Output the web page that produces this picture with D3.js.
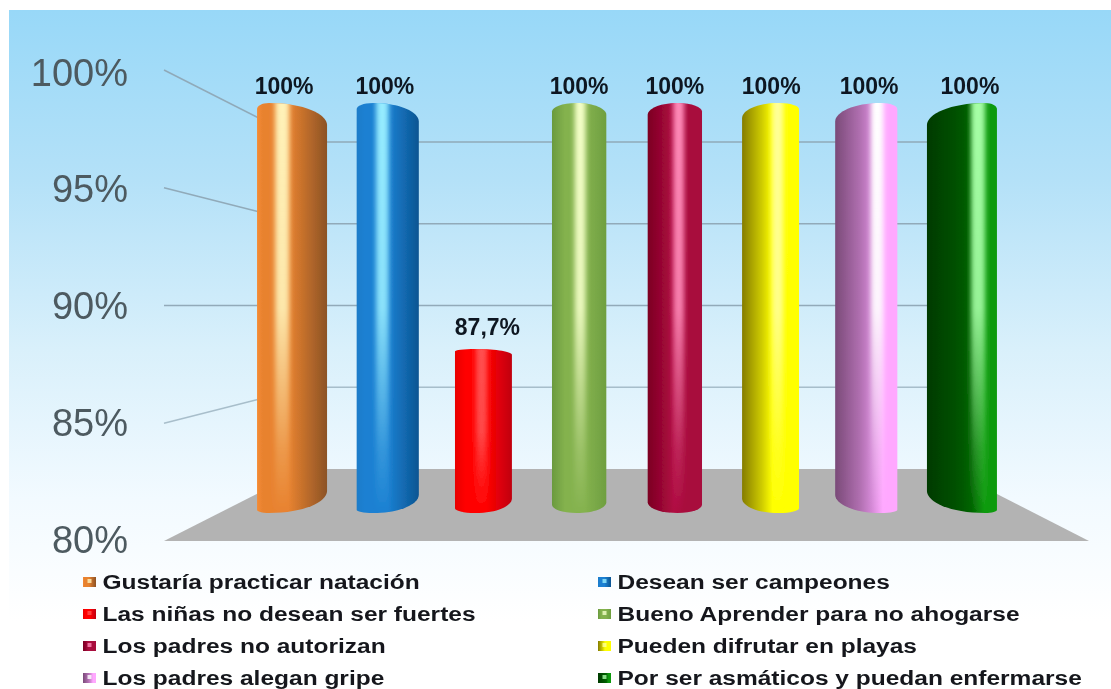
<!DOCTYPE html>
<html><head><meta charset="utf-8">
<script src="https://cdn.jsdelivr.net/npm/d3@7"></script>
<style>html,body{margin:0;padding:0;background:#fff}svg{display:block}text{font-family:"Liberation Sans",Arial,sans-serif}</style>
</head><body><svg id="c" width="1111" height="689"></svg>
<script>
const categories=["Gustaría practicar natación","Desean ser campeones","Las niñas no desean ser fuertes","Bueno Aprender para no ahogarse","Los padres no autorizan","Pueden difrutar en playas","Los padres alegan gripe","Por ser asmáticos y puedan enfermarse"];
const values=[100,100,87.7,100,100,100,100,100];
const valueLabels=["100%","100%","87,7%","100%","100%","100%","100%","100%"];
const axisTicks=[80,85,90,95,100];
const edgeLeft=["#f58b33","#1a7cc9","#e80000","#6a9a3e","#7c0022","#857c00","#7a4a78","#003a00"];
const bodyColor=["#e8822f","#1b80d2","#ff0000","#84b24e","#b00c42","#ffff00","#d488d6","#006400"];
const edgeRight=["#8c5326","#0b5592","#c00012","#6f9f40","#a80a3c","#ffff00","#ffa8ff","#0f9a0f"];
const shine=["#fff2b8","#96ecff","#ff5050","#f4ffc8","#ff8ab8","#ffff98","#ffffff","#a6ffa6"];

const W=1111,H=689;
const svg=d3.select("#c");
const defs=svg.append("defs");
const bg=defs.append("linearGradient").attr("id","bg").attr("x1",0).attr("x2",0).attr("y1",0).attr("y2",1);
[[0,"#98d8f8"],[.25,"#b4e1f8"],[.5,"#d9f0fb"],[.72,"#f2faff"],[.9,"#ffffff"],[1,"#ffffff"]].forEach(d=>bg.append("stop").attr("offset",d[0]).attr("stop-color",d[1]));
defs.append("filter").attr("id","soft").attr("x","-5%").attr("y","-5%").attr("width","110%").attr("height","110%").append("feGaussianBlur").attr("stdDeviation",0.5);
defs.append("filter").attr("id","sheen").attr("x","-100%").attr("width","300%").append("feGaussianBlur").attr("stdDeviation","2.5 0");

svg.append("rect").attr("x",9).attr("y",10).attr("width",W-9).attr("height",H-10).attr("fill","url(#bg)");
const root=svg.append("g").attr("filter","url(#soft)");

const yFront=d3.scaleLinear().domain([80,100]).range([541,70]);
const yBack=d3.scaleLinear().domain([80,100]).range([469,142]);
const yBar=d3.scaleLinear().domain([80,100]).range([503,103]);
const yLabel=d3.scaleLinear().domain([80,100]).range([540,73]);
const x=d3.scaleBand().domain(categories).range([244.2,1009.8]);
const legendRow=d3.scalePoint().domain(d3.range(4)).range([582,678]);
const legendCol=d3.scalePoint().domain([0,1]).range([83,598]);

// floor
const backL=306,backR=948,frontL=164,frontR=1089;
root.append("path").attr("fill","#b3b3b3").attr("d",d3.line()([[frontL,yFront(80)],[backL,yBack(80)],[backR,yBack(80)],[frontR,yFront(80)]])+"Z");

// gridlines and side ticks
root.append("g").selectAll("path").data(axisTicks.filter(d=>d>80)).join("path")
  .attr("fill","none").attr("stroke","#8ea6b5").attr("stroke-width",1.5).attr("stroke-opacity",d=>d>=90?.95:.7)
  .attr("d",d=>d3.line()([[frontL,yFront(d)],[backL,yBack(d)],[backR+30,yBack(d)]]));

// axis labels
const axis=root.append("g").attr("transform","translate(132,0)")
  .call(d3.axisLeft(yLabel).tickValues(axisTicks).tickSize(0).tickPadding(4).tickFormat(d=>d+"%"));
axis.select(".domain").remove();
axis.selectAll("text").attr("font-size",38).attr("fill","#4d5a60").style("font-family",'"Liberation Sans",Arial,sans-serif');

// cylinders
const mid=d3.mean(x.range());
const half=(x.range()[1]-x.range()[0])/2-x.bandwidth()/2;
const gradStops=(i,s,hp)=>[[0,edgeLeft[i]],[Math.max(.02,hp-.28),s>0?d3.interpolateRgb(edgeLeft[i],bodyColor[i])(.6):bodyColor[i]],[hp-.09,bodyColor[i]],[hp+.09,s>0?edgeRight[i]:bodyColor[i]],[1,edgeRight[i]]];
categories.forEach((c,i)=>{
  const cx=x(c)+x.bandwidth()/2, s=(cx-mid)/half, a=Math.abs(s);
  const w=54+16*s*s, x0=cx-w/2, x1=cx+w/2;
  const t=(values[i]-80)/20;
  const top=yBar(values[i]), base=513;
  const outerT=top+(10+12*a)*t, innerT=top+Math.max(6,10-10*a)*t;
  const outerB=base-9-13*a, innerB=base-Math.max(3,10-12*a);
  const yLT=s>=0?outerT:innerT, yRT=s>=0?innerT:outerT;
  const yLB=s>=0?outerB:innerB, yRB=s>=0?innerB:outerB;
  const px=cx+s*0.33*w, hp=.545+.185*s;
  const p=d3.path();
  p.moveTo(x0,yLT);
  p.bezierCurveTo(x0,yLT-(yLT-top)*.5,px-(px-x0)*.6,top,px,top);
  p.bezierCurveTo(px+(x1-px)*.6,top,x1,yRT-(yRT-top)*.5,x1,yRT);
  p.lineTo(x1,yRB);
  p.bezierCurveTo(x1,yRB+(base-yRB)*.5,px+(x1-px)*.6,base,px,base);
  p.bezierCurveTo(px-(px-x0)*.6,base,x0,yLB+(base-yLB)*.5,x0,yLB);
  p.closePath();
  const g=defs.append("linearGradient").attr("id","cyl"+i);
  gradStops(i,s,hp).forEach(d=>g.append("stop").attr("offset",d[0]).attr("stop-color",d[1]));
  const v=defs.append("linearGradient").attr("id","shine"+i).attr("x1",0).attr("x2",0).attr("y1",0).attr("y2",1);
  [[0,1],[.5,.9],[.85,.2],[1,0]].forEach(d=>v.append("stop").attr("offset",d[0]).attr("stop-color",shine[i]).attr("stop-opacity",d[1]));
  defs.append("clipPath").attr("id","clip"+i).append("path").attr("d",p.toString());
  const b=root.append("g");
  b.append("path").attr("d",p.toString()).attr("fill",`url(#cyl${i})`);
  b.append("g").attr("clip-path",`url(#clip${i})`).append("rect")
    .attr("x",x0+hp*w-w*.1).attr("y",top).attr("width",w*.2).attr("height",base-top)
    .attr("fill",`url(#shine${i})`).attr("filter","url(#sheen)");
  const labelX=values[i]===100?cx+s*s*s*8:cx+4;
  root.append("text").attr("x",labelX).attr("y",top-(values[i]===100?9:14)).attr("text-anchor","middle")
    .attr("font-size",23).attr("font-weight","bold").attr("fill","#101820").text(valueLabels[i]);
});

// legend
categories.forEach((c,i)=>{
  const col=i%2,row=Math.floor(i/2);
  const lx=legendCol(col),ly=legendRow(row);
  const g=root.append("g");
  g.append("rect").attr("x",lx).attr("y",ly-5).attr("width",13).attr("height",10).attr("fill",`url(#cyl${i})`);
  g.append("rect").attr("x",lx+4.5).attr("y",ly-3).attr("width",4).attr("height",4).attr("fill",shine[i]).attr("fill-opacity",.8);
  g.append("text").attr("x",lx+19.5).attr("y",ly+7.5).attr("font-size",21).attr("font-weight","bold").attr("fill","#14181c")
    .attr("transform",`translate(${(lx+19.5)},0) scale(1.167,1) translate(${-(lx+19.5)},0)`).text(c);
});
</script></body></html>
